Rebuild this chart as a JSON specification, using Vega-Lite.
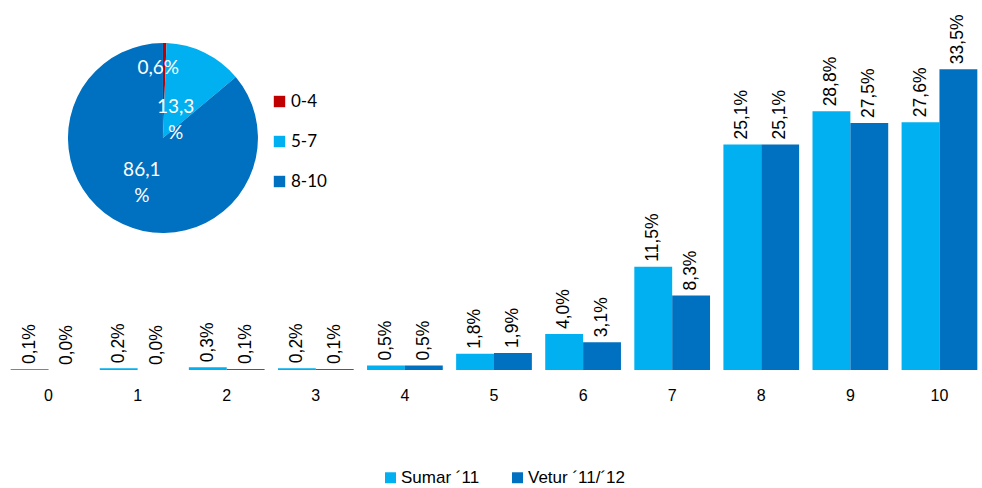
{
  "$schema": "https://vega.github.io/schema/vega-lite/v6.json",
  "autosize": {"type": "none"},
  "width": 980,
  "height": 370,
  "padding": {"left": 4, "top": 0, "right": 0, "bottom": 118},
  "config": {
    "view": {"stroke": null},
    "font": "Liberation Sans",
    "locale": {"number": {"decimal": ",", "thousands": ".", "grouping": [3], "currency": ["", ""]}}
  },
  "layer": [
    {
      "data": {"values": [
        {"cat": "0", "series": "Sumar ´11", "v": 0.001},
        {"cat": "0", "series": "Vetur ´11/´12", "v": 0.0},
        {"cat": "1", "series": "Sumar ´11", "v": 0.002},
        {"cat": "1", "series": "Vetur ´11/´12", "v": 0.0},
        {"cat": "2", "series": "Sumar ´11", "v": 0.003},
        {"cat": "2", "series": "Vetur ´11/´12", "v": 0.001},
        {"cat": "3", "series": "Sumar ´11", "v": 0.002},
        {"cat": "3", "series": "Vetur ´11/´12", "v": 0.001},
        {"cat": "4", "series": "Sumar ´11", "v": 0.005},
        {"cat": "4", "series": "Vetur ´11/´12", "v": 0.005},
        {"cat": "5", "series": "Sumar ´11", "v": 0.018},
        {"cat": "5", "series": "Vetur ´11/´12", "v": 0.019},
        {"cat": "6", "series": "Sumar ´11", "v": 0.040},
        {"cat": "6", "series": "Vetur ´11/´12", "v": 0.031},
        {"cat": "7", "series": "Sumar ´11", "v": 0.115},
        {"cat": "7", "series": "Vetur ´11/´12", "v": 0.083},
        {"cat": "8", "series": "Sumar ´11", "v": 0.251},
        {"cat": "8", "series": "Vetur ´11/´12", "v": 0.251},
        {"cat": "9", "series": "Sumar ´11", "v": 0.288},
        {"cat": "9", "series": "Vetur ´11/´12", "v": 0.275},
        {"cat": "10", "series": "Sumar ´11", "v": 0.276},
        {"cat": "10", "series": "Vetur ´11/´12", "v": 0.335}
      ]},
      "encoding": {
        "x": {"field": "cat", "type": "nominal", "sort": ["0","1","2","3","4","5","6","7","8","9","10"],
              "scale": {"paddingInner": 0.15, "paddingOuter": 0.075},
              "axis": {"title": null, "labelAngle": 0, "ticks": false, "domain": false, "labelFontSize": 16, "labelPadding": 17, "labelColor": "#000000", "labelFont": "Liberation Sans"}},
        "xOffset": {"field": "series", "type": "nominal", "sort": ["Sumar ´11", "Vetur ´11/´12"], "scale": {"paddingInner": 0, "paddingOuter": 0}},
        "y": {"field": "v", "type": "quantitative", "scale": {"domain": [0, 0.412], "nice": false}, "axis": null}
      },
      "layer": [
        {
          "mark": {"type": "bar"},
          "encoding": {
            "color": {"field": "series", "type": "nominal",
                      "scale": {"domain": ["Sumar ´11", "Vetur ´11/´12"], "range": ["#00B0F0", "#0070C0"]},
                      "legend": {"title": null, "orient": "none", "legendX": 378, "legendY": 469, "direction": "horizontal",
                                 "symbolType": "square", "symbolSize": 120, "symbolStrokeWidth": 0, "labelFontSize": 17, "labelFont": "Liberation Sans", "labelColor": "#000000", "columnPadding": 29, "symbolOffset": 0, "labelOffset": 2}}
          }
        },
        {
          "mark": {"type": "text", "angle": 270, "align": "left", "baseline": "middle", "dx": 5, "fontSize": 17.5, "font": "Liberation Sans", "color": "#000000"},
          "encoding": {
            "text": {"field": "v", "type": "quantitative", "format": ".1%"}
          }
        }
      ]
    },
    {
      "data": {"values": [
        {"grp": "0-4", "p": 0.006, "lbl": "0,6%"},
        {"grp": "5-7", "p": 0.133, "lbl": "13,3\n%"},
        {"grp": "8-10", "p": 0.861, "lbl": "86,1\n%"}
      ]},
      "encoding": {
        "theta": {"field": "p", "type": "quantitative", "stack": true},
        "order": {"field": "grp", "type": "ordinal"},
        "x": {"datum": 0.1622, "type": "quantitative", "scale": {"domain": [0, 1], "nice": false}, "axis": null},
        "y": {"datum": 0.627, "type": "quantitative", "scale": {"domain": [0, 1], "nice": false}, "axis": null}
      },
      "layer": [
        {
          "mark": {"type": "arc", "outerRadius": 95},
          "encoding": {
            "color": {"field": "grp", "type": "nominal",
                      "scale": {"domain": ["0-4", "5-7", "8-10"], "range": ["#C00000", "#00B0F0", "#0070C0"]},
                      "legend": {"title": null, "orient": "none", "legendX": 267, "legendY": 93, "symbolType": "square", "symbolSize": 130, "symbolStrokeWidth": 0, "labelFontSize": 17, "labelFont": "Lato", "labelColor": "#000000", "rowPadding": 22, "labelOffset": 3}}
          }
        },
        {
          "mark": {"type": "text", "radius": 70, "dx": -6, "fontSize": 19, "font": "Lato", "color": "#FFFFFF", "lineBreak": "\n", "lineHeight": 26},
          "encoding": {"text": {"condition": {"test": "datum.grp === '0-4'", "field": "lbl"}, "value": ""}}
        },
        {
          "mark": {"type": "text", "radius": 22, "dx": 3, "dy": -11, "fontSize": 19, "font": "Lato", "color": "#FFFFFF", "lineBreak": "\n", "lineHeight": 26},
          "encoding": {"text": {"condition": {"test": "datum.grp === '5-7'", "field": "lbl"}, "value": ""}}
        },
        {
          "mark": {"type": "text", "radius": 50, "dy": -13, "fontSize": 19, "font": "Lato", "color": "#FFFFFF", "lineBreak": "\n", "lineHeight": 26},
          "encoding": {"text": {"condition": {"test": "datum.grp === '8-10'", "field": "lbl"}, "value": ""}}
        }
      ]
    }
  ],
  "resolve": {"scale": {"x": "independent", "y": "independent", "color": "independent", "theta": "independent"}}
}
